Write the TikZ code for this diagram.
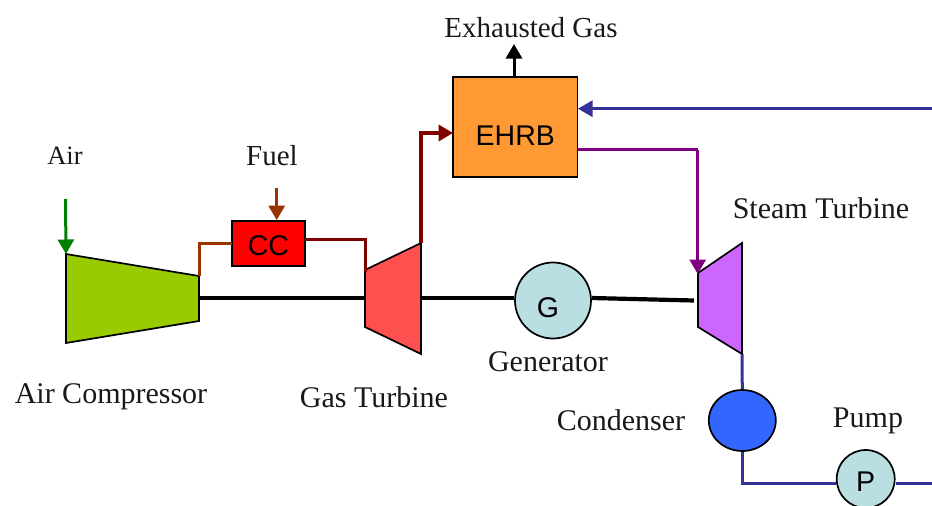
\documentclass[tikz,border=0pt]{standalone}
\usepackage{fontspec}
\setmainfont{Liberation Serif}
\newfontfamily\arialf{Liberation Sans}
\usetikzlibrary{arrows.meta,shapes.geometric}
\definecolor{brn}{HTML}{993300}
\definecolor{dred}{HTML}{800000}
\definecolor{pur}{HTML}{800080}
\definecolor{blu}{HTML}{333399}
\definecolor{grn}{HTML}{008000}
\definecolor{gbl}{HTML}{B9DFE3}
\definecolor{acol}{HTML}{99CC00}
\definecolor{gcol}{HTML}{FF5050}
\definecolor{scol}{HTML}{CC66FF}
\definecolor{ccol}{HTML}{FF0000}
\definecolor{ecol}{HTML}{FF9933}
\definecolor{ncol}{HTML}{3366FF}
\tikzset{
 lab/.style={inner sep=0pt,font=\fontsize{30}{34}\selectfont,text=black!90},
 sanslab/.style={inner sep=0pt,font=\arialf\fontsize{28.5}{32}\selectfont},
 mach/.style={draw=black,line width=1.7pt,line join=miter},
 pipe/.style={line width=3pt,line join=miter},
 shaft/.style={black,line width=4.2pt},
 tipa/.style={-{Triangle[length=14.5pt,width=16pt]}},
}
\begin{document}
\begin{tikzpicture}[x=1pt,y=-1pt]
\useasboundingbox (0,0) rectangle (932,506);
% machines
\coordinate (acin) at (66,254);
\coordinate (acout) at (199,276);
\coordinate (acshaft) at (199,298);
\coordinate (gtin) at (365,272);
\coordinate (gtout) at (421,243);
\coordinate (gtshl) at (365,298);
\coordinate (gtshr) at (421,298);
\coordinate (stin) at (698,274);
\coordinate (stout) at (742,354);
\coordinate (stsh) at (694,300.5);
\coordinate (airstart) at (65.5,199);
\coordinate (fuelstart) at (276.7,188);
\coordinate (exh) at (514,44);
\coordinate (feedin) at (932,108.7);
\coordinate (feedout) at (932,483);
\draw[shaft] (acshaft) -- (gtshl);
\path[mach,fill=acol] (acin) -- (acout) -- (199,321) -- (66,343) -- cycle;
\path[mach,fill=gcol] (365,270) -- (gtout) -- (421,354) -- (365,327) -- cycle;
\path[mach,fill=scol] (698,273) -- (742,243) -- (stout) -- (698,327) -- cycle;
\node[draw=black,line width=1.7pt,fill=ccol,minimum width=73pt,minimum height=45pt,sanslab] (cc) at (268.5,243.5) {\smash{\raisebox{-12pt}{CC}}};
\node[draw=black,line width=1.7pt,fill=ecol,minimum width=124.5pt,minimum height=99.5pt,sanslab] (ehrb) at (515.3,127) {\smash{\raisebox{-18pt}{EHRB}}};
\node[draw=black,line width=1.7pt,circle,fill=gbl,minimum size=76pt,inner sep=0pt] (g) at (553,300.5) {};
\node[sanslab] (gt) at (548,308) {G};
\node[draw=black,line width=1.7pt,ellipse,fill=ncol,minimum width=67pt,minimum height=61pt,inner sep=0pt] (cond) at (742.3,420.5) {};
\node[draw=black,line width=1.7pt,circle,fill=gbl,minimum size=58pt,inner sep=0pt,sanslab] (p) at (865.7,479) {\smash{\raisebox{-12.7pt}{P}}};
% shaft
\draw[shaft] (gtshr) -- (g.west |- gtshr);
\draw[shaft] (g.east |- gtshr) -- (stsh);
% pipes
\draw[pipe,color=grn,tipa] (airstart) -- (acin);
\draw[pipe,color=brn,tipa] (fuelstart) -- (fuelstart |- cc.north);
\draw[pipe,color=brn] (acout) -- (acout |- 0,243) -- (232,243);
\draw[pipe,color=dred] (305,239) -- (365,239) -- (gtin);
\draw[pipe,line width=3.6pt,color=dred,tipa] (gtout) |- (453,133);
\draw[pipe,color=black,tipa] (514,77) -- (exh);
\draw[pipe,color=blu,tipa] (feedin) -- (578,108.7);
\draw[pipe,color=pur] (578,149) -- (697.7,149);
\draw[pipe,color=pur,tipa] (697.7,150) -- (stin -| 697.7,0);
\draw[pipe,color=blu] (stout) -- (cond.north);
\draw[pipe,color=blu] (cond.south) -- (742.3,483) -- (p.west |- 0,483);
\draw[pipe,color=blu] (p.east |- 0,483) -- (feedout);
% labels
\node[lab,font=\fontsize{26.5}{30}\selectfont] (lair) at (65,156) {Air};
\node[lab,font=\fontsize{29}{33}\selectfont] (lfuel) at (272,156) {Fuel};
\node[lab] (lac) at (111,397) {Air Compressor};
\node[lab] (lgt) at (374,397) {Gas Turbine};
\node[lab] (lgen) at (548,362) {Generator};
\node[lab] (lst) at (821,208) {Steam Turbine};
\node[lab] (lcond) at (621,420) {Condenser};
\node[lab] (lpump) at (868,421) {Pump};
\node[lab,font=\fontsize{29}{33}\selectfont] (lex) at (531,28) {Exhausted Gas};
\end{tikzpicture}
\end{document}
